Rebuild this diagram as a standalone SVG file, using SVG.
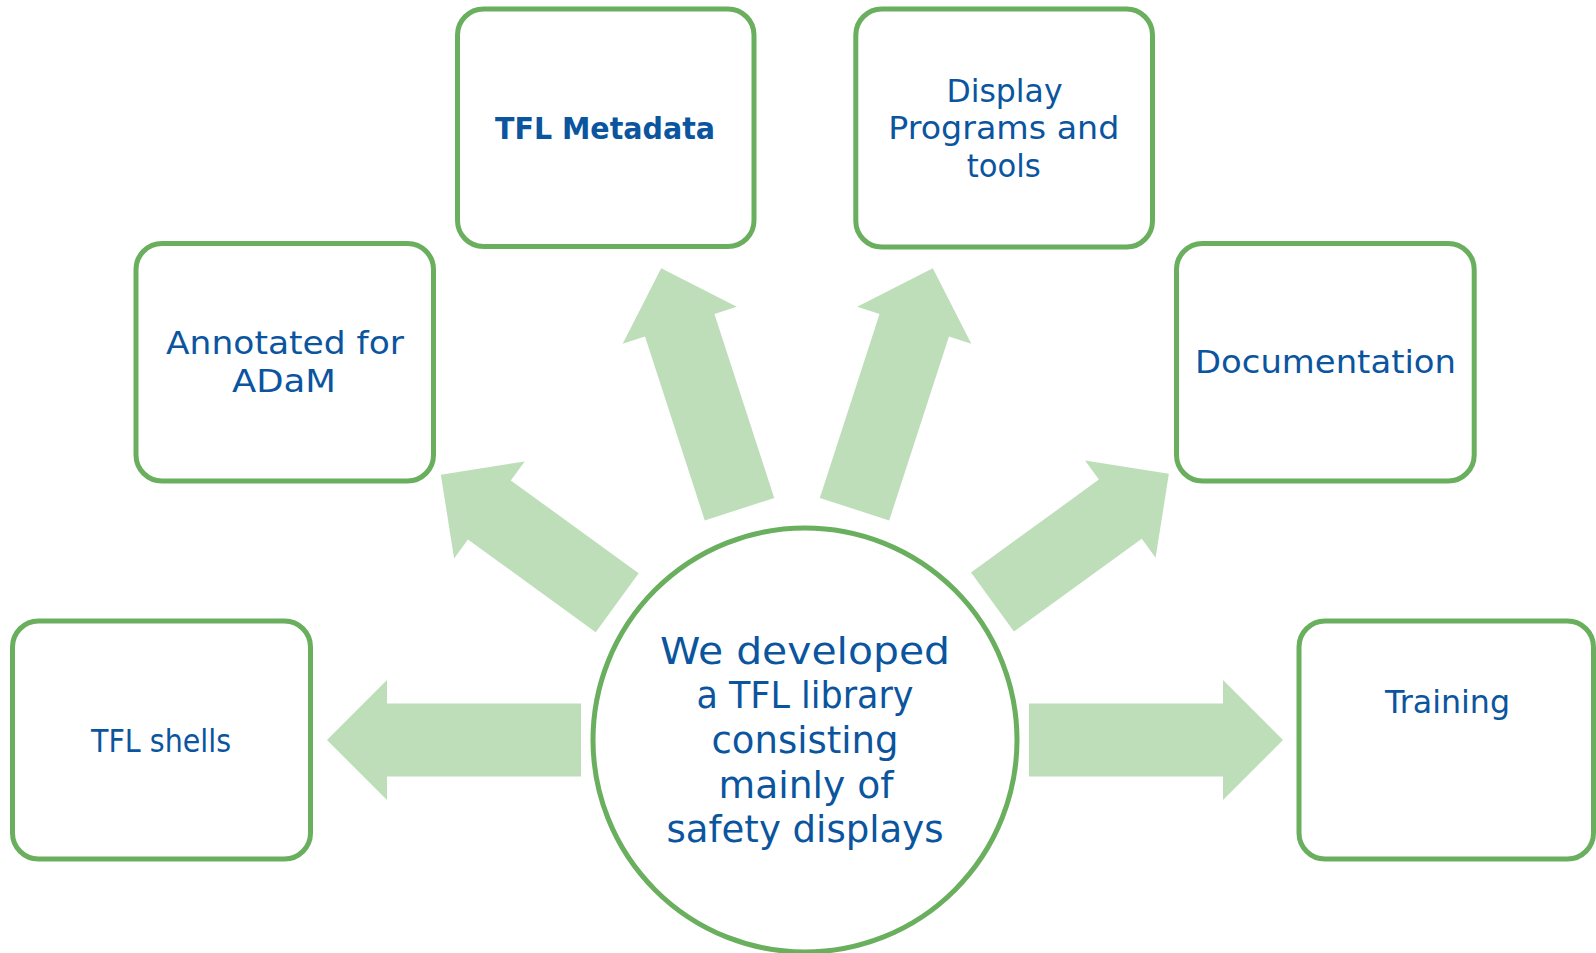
<svg xmlns="http://www.w3.org/2000/svg" width="1596" height="953" viewBox="0 0 1596 953">
  <style>
    .box { fill: #ffffff; stroke: #69af5e; stroke-width: 5; }
    .hub { fill: #ffffff; stroke: #69af5e; stroke-width: 5; }
    .arrow { fill: #bedeba; stroke: none; }
    .lbl { font-family: "DejaVu Sans", "Liberation Sans", sans-serif; font-size: 32px; fill: #0b559f; text-anchor: middle; }
    .lbl-b { font-family: "DejaVu Sans", "Liberation Sans", sans-serif; font-size: 31px; font-weight: bold; fill: #0b559f; text-anchor: middle; }
    .hub-lbl { font-family: "DejaVu Sans", "Liberation Sans", sans-serif; font-size: 38px; fill: #0b559f; text-anchor: middle; }
  </style>
  <defs>
    <!-- block arrows, base at origin, pointing along +x -->
    <path id="arrow-long" d="M0,-36.5 L194,-36.5 L194,-60 L254,0 L194,60 L194,36.5 L0,36.5 Z"/>
    <path id="arrow-mid" d="M0,-36.5 L193.4,-36.5 L193.4,-60 L253.4,0 L193.4,60 L193.4,36.5 L0,36.5 Z"/>
    <path id="arrow-short" d="M0,-36.5 L158,-36.5 L158,-60 L218,0 L158,60 L158,36.5 L0,36.5 Z"/>
  </defs>

  <rect width="1596" height="953" fill="#ffffff"/>

  <g id="connectors">
    <use href="#arrow-long" class="arrow" transform="translate(581,740) rotate(180)"/>
    <use href="#arrow-short" class="arrow" transform="translate(617.2,602.8) rotate(-144)"/>
    <use href="#arrow-mid" class="arrow" transform="translate(739.5,509.2) rotate(-108)"/>
    <use href="#arrow-mid" class="arrow" transform="translate(854.5,509.2) rotate(-72)"/>
    <use href="#arrow-short" class="arrow" transform="translate(992.5,602) rotate(-36)"/>
    <use href="#arrow-long" class="arrow" transform="translate(1029,740)"/>
  </g>

  <g id="hub">
    <circle class="hub" cx="805" cy="740" r="212"/>
    <text class="hub-lbl" x="805" y="664.3" textLength="290" lengthAdjust="spacingAndGlyphs">We developed</text>
    <text class="hub-lbl" x="805" y="708.3" textLength="217" lengthAdjust="spacingAndGlyphs">a TFL library</text>
    <text class="hub-lbl" x="805" y="753.3" textLength="187" lengthAdjust="spacingAndGlyphs">consisting</text>
    <text class="hub-lbl" x="806" y="797.7" textLength="175" lengthAdjust="spacingAndGlyphs">mainly of</text>
    <text class="hub-lbl" x="805" y="841.7" textLength="277" lengthAdjust="spacingAndGlyphs">safety displays</text>
  </g>

  <g id="node-tfl-shells">
    <rect class="box" x="12.5" y="621" width="298" height="238" rx="26"/>
    <text class="lbl" x="161" y="751.7" textLength="140" lengthAdjust="spacingAndGlyphs">TFL shells</text>
  </g>

  <g id="node-annotated">
    <rect class="box" x="136" y="243.5" width="297.5" height="237.5" rx="26"/>
    <text class="lbl" x="285" y="354.3" textLength="238" lengthAdjust="spacingAndGlyphs">Annotated for</text>
    <text class="lbl" x="284" y="392.3" textLength="104" lengthAdjust="spacingAndGlyphs">ADaM</text>
  </g>

  <g id="node-metadata">
    <rect class="box" x="457.5" y="9" width="296.5" height="237.5" rx="26"/>
    <text class="lbl-b" x="605" y="139" textLength="220" lengthAdjust="spacingAndGlyphs">TFL Metadata</text>
  </g>

  <g id="node-display">
    <rect class="box" x="855.8" y="9" width="296.7" height="238" rx="26"/>
    <text class="lbl" x="1004.5" y="101.7" textLength="116" lengthAdjust="spacingAndGlyphs">Display</text>
    <text class="lbl" x="1003.8" y="139.3" textLength="231" lengthAdjust="spacingAndGlyphs">Programs and</text>
    <text class="lbl" x="1003.8" y="176.7" textLength="74" lengthAdjust="spacingAndGlyphs">tools</text>
  </g>

  <g id="node-documentation">
    <rect class="box" x="1176.5" y="243.5" width="297.7" height="237.5" rx="26"/>
    <text class="lbl" x="1325.5" y="373.3" textLength="261" lengthAdjust="spacingAndGlyphs">Documentation</text>
  </g>

  <g id="node-training">
    <rect class="box" x="1299" y="621" width="294.5" height="238" rx="26"/>
    <text class="lbl" x="1447.5" y="713.3" textLength="125" lengthAdjust="spacingAndGlyphs">Training</text>
  </g>
</svg>
